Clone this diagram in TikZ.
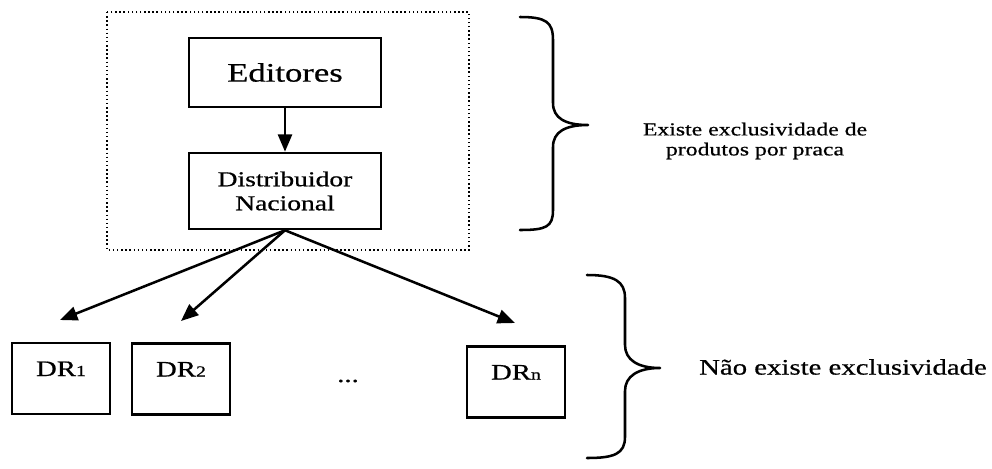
\documentclass[tikz,border=0pt]{standalone}
\usepackage{fontspec}
\setmainfont{Liberation Serif}[FakeStretch=1.3, FakeBold=0.7]
\usetikzlibrary{arrows.meta}

\newcommand{\fs}[2]{\fontsize{#1}{#2}\selectfont}
\newcommand{\idx}[1]{{\fs{11.5pt}{12pt}#1}}

\begin{document}
\begin{tikzpicture}[x=0.75pt,y=-0.75pt,
  box/.style={draw, line width=1.9pt, inner sep=0pt, align=center},
  topbox/.style={box, minimum width=144pt, font=\fs{15.9pt}{18pt}},
  drbox/.style={box, minimum width=73.5pt, minimum height=53pt,
    text height=11pt, text depth=14.75pt, font=\fs{16.6pt}{18pt}},
  flow/.style={line width=1.9pt, -{Triangle[length=13pt,width=10.5pt]}},
  frame/.style={dotted, line width=1.1pt},
  brace/.style={line width=1.9pt, line cap=round, line join=round},
  note/.style={inner sep=0pt, align=center}]
\useasboundingbox (0,0) rectangle (992,468);

% grouping around publisher and national distributor
\draw[frame] (107,12) rectangle (469,250);

% boxes
\node[topbox, minimum height=51.75pt, font=\fs{20pt}{22pt}] (ed) at (285,72.5) {Editores};
\node[topbox, minimum height=57pt] (dn) at (285,191) {Distribuidor\\Nacional};

\node[drbox] (dr1) at (61,378.5) {DR\idx{1}};
\node[drbox] (dr2) at (181,379) {DR\idx{2}};
\node[drbox] (drn) at (516,382) {DR\idx{n}};
\node[note, font=\fs{16.6pt}{18pt}] (dots) at (348,381) {...};

% arrow ends above the regional distributors
\coordinate (e1) at (60,320);
\coordinate (e2) at (181,321);
\coordinate (en) at (515,323);

\draw[flow] (ed) -- (dn);
\draw[flow] (dn.south) -- (e1);
\draw[flow] (dn.south) -- (e2);
\draw[flow] (dn.south) -- (en);

% upper brace
\draw[brace] (520,17) .. controls (546,17) and (553,22) .. (553,40)
  -- (553,103) .. controls (553,118) and (565,125) .. (588,125)
  .. controls (565,125) and (553,132) .. (553,147)
  -- (553,210) .. controls (553,227) and (546,230) .. (520,230);

% lower brace
\draw[brace] (587,275) .. controls (614,275) and (625,281) .. (625,298)
  -- (625,345) .. controls (625,360) and (638,368) .. (660,368)
  .. controls (638,368) and (625,376) .. (625,391)
  -- (625,437) .. controls (625,454) and (614,458) .. (587,458);

% notes
\node[note, font=\fs{13.7pt}{15pt}] (n1) at (755,141) {Existe exclusividade de\\produtos por praca};
\node[note, font=\fs{16.6pt}{18pt}] (n2) at (843,367) {Não existe exclusividade};
\end{tikzpicture}
\end{document}
